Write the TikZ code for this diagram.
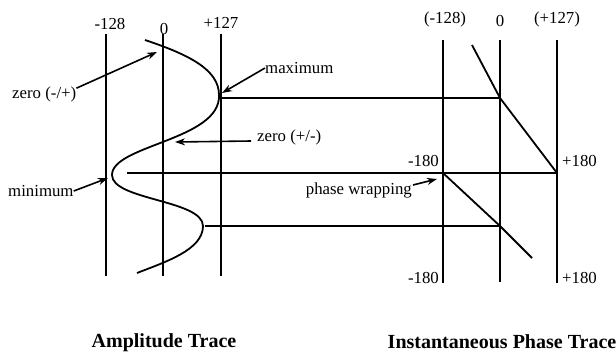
\documentclass[tikz,border=0pt]{standalone}
\usepackage{fontspec}
\setmainfont{Liberation Serif}
\usetikzlibrary{arrows.meta,calc}
\begin{document}
\begin{tikzpicture}[x=1pt,y=-1pt,
  axis/.style={line width=1.4pt},
  hline/.style={line width=1.5pt},
  trace/.style={line width=1.8pt},
  lbl/.style={font=\fontsize{16.8}{18}\selectfont, inner sep=0pt},
  ttl/.style={font=\fontsize{20}{22}\selectfont\bfseries, inner sep=0pt},
  pointer/.style={-{Stealth[length=10pt,width=7pt]}, line width=1.6pt}]
\useasboundingbox (0,0) rectangle (616,354);
% amplitude axes
\coordinate (aLt) at (106,34); \coordinate (aLb) at (106,276);
\coordinate (aMt) at (163,34); \coordinate (aMb) at (163,276);
\coordinate (aRt) at (221,34); \coordinate (aRb) at (221,276);
\draw[axis] (aLt) -- (aLb);
\draw[axis] (aMt) -- (aMb);
\draw[axis] (aRt) -- (aRb);
\node[lbl] (aL) at (110,24) {-128};
\node[lbl] (aM) at (164,29) {0};
\node[lbl] (aR) at (221,23) {+127};
% phase axes
\coordinate (pLt) at (443,40); \coordinate (pLb) at (443,283);
\coordinate (pMt) at (500,40); \coordinate (pMb) at (500,282);
\coordinate (pRt) at (557,40); \coordinate (pRb) at (557,283);
\draw[axis] (pLt) -- (pLb);
\draw[axis] (pMt) -- (pMb);
\draw[axis] (pRt) -- (pRb);
\node[lbl] (pL) at (445,19) {(-128)};
\node[lbl] (pM) at (500,21) {0};
\node[lbl] (pR) at (557,19) {(+127)};
\node[lbl,anchor=east] (pLtop) at (439,161) {-180};
\node[lbl,anchor=west] (pRtop) at (562,161) {+180};
\node[lbl,anchor=east] (pLbot) at (439,278) {-180};
\node[lbl,anchor=west] (pRbot) at (562,278) {+180};
% amplitude trace
\coordinate (c0) at (145,40);
\coordinate (max1) at (219,95);
\coordinate (min1) at (112,175);
\coordinate (max2) at (203,226);
\coordinate (c4) at (137,273);
\draw[trace] (c0) .. controls (190,55) and (219,70) .. (max1)
  .. controls (221,140) and (112,145) .. (min1)
  .. controls (112,200) and (203,200) .. (max2)
  .. controls (203,250) and (165,262) .. (c4);
% phase trace
\coordinate (q0) at (472,45);
\coordinate (q1) at (500,98);
\coordinate (q2) at (557,173);
\coordinate (q3) at (443,173);
\coordinate (q4) at (500,226);
\coordinate (q5) at (532,258);
\draw[trace] (q0) -- (q1) -- (q2);
\draw[trace] (q3) -- (q4) -- (q5);
% horizontal connectors
\coordinate (h1) at (222,98);
\coordinate (h2) at (127,173);
\coordinate (h3) at (205,226);
\draw[hline] (h1) -- (q1);
\draw[hline] (h2) -- (q2);
\draw[hline] (h3) -- (q4);
% annotations
\node[lbl,anchor=west] (zmp) at (12,94) {zero (-/+)};
\coordinate (zmpT) at (157,52);
\draw[pointer] ($(zmp.north east)+(0,2)$) -- (zmpT);
\node[lbl,anchor=west] (mx) at (265,68) {maximum};
\coordinate (mxT) at (222,93);
\draw[pointer] (mx.west) -- (mxT);
\node[lbl,anchor=west] (zpm) at (257,137) {zero (+/-)};
\coordinate (zpmT) at (175,142);
\draw[pointer] ($(zpm.west)+(-6,4)$) -- (zpmT);
\node[lbl,anchor=west] (mn) at (8,191) {minimum};
\coordinate (mnT) at (108,178);
\draw[pointer] (mn.east) -- (mnT);
\node[lbl,anchor=east] (pw) at (412,190) {phase wrapping};
\coordinate (pwT) at (437,179);
\draw[pointer] ($(pw.east)+(1,-5)$) -- (pwT);
% titles
\node[ttl] (t1) at (164,343) {Amplitude Trace};
\node[ttl] (t2) at (502,342) {Instantaneous Phase Trace};
\end{tikzpicture}
\end{document}
